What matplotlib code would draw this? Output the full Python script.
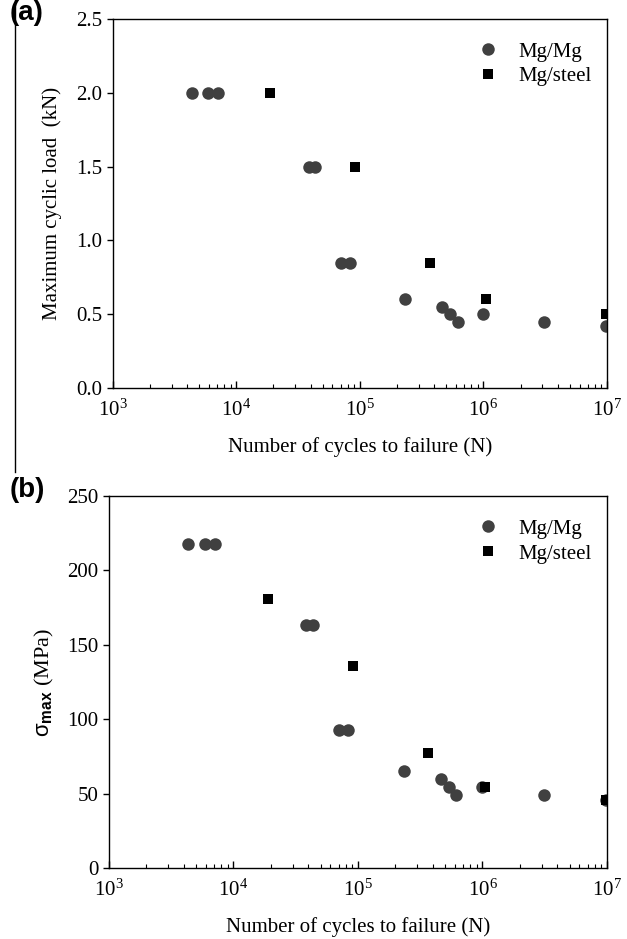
import matplotlib
matplotlib.use("Agg")
import matplotlib.pyplot as plt
from matplotlib.ticker import LogLocator, NullFormatter, LogFormatterMathtext, MultipleLocator, FormatStrFormatter
from matplotlib.lines import Line2D

plt.rcParams['font.family'] = ['Liberation Serif', 'DejaVu Serif']
plt.rcParams['mathtext.fontset'] = 'custom'
plt.rcParams['mathtext.rm'] = 'Liberation Serif'
plt.rcParams['mathtext.it'] = 'Liberation Serif:italic'
plt.rcParams['mathtext.bf'] = 'Liberation Sans:bold'
plt.rcParams['mathtext.sf'] = 'Liberation Sans'

# ---- data (a): maximum cyclic load (kN) ----
mgmg_cycles_a = [4350, 5870, 7090, 38500, 43600, 71000, 82500, 234000, 465000, 541000, 617000, 1.0e6, 3.1e6, 9.8e6]
mgmg_load_a = [2.0, 2.0, 2.0, 1.5, 1.5, 0.85, 0.85, 0.6, 0.55, 0.5, 0.45, 0.5, 0.45, 0.42]
mgst_cycles_a = [18800, 90700, 367000, 1.04e6, 9.8e6]
mgst_load_a = [2.0, 1.5, 0.85, 0.6, 0.5]

# ---- data (b): sigma max (MPa) ----
mgmg_cycles_b = [4350, 5870, 7090, 38500, 43600, 71000, 82500, 234000, 465000, 541000, 617000, 1.0e6, 3.1e6, 9.8e6]
mgmg_sigma_b = [217.5, 217.5, 217.5, 163, 163, 92.5, 92.5, 65, 60, 54.5, 49, 54.5, 49, 45.5]
mgst_cycles_b = [18800, 90700, 367000, 1.04e6, 9.8e6]
mgst_sigma_b = [180.5, 135.5, 77, 54.5, 45.5]

series_labels = ['Mg/Mg', 'Mg/steel']
xlabel = 'Number of cycles to failure (N)'

fig = plt.figure(figsize=(6.27, 9.39), dpi=100)
ax1 = fig.add_axes([0.1797, 0.5868, 0.7884, 0.3930])
ax2 = fig.add_axes([0.1738, 0.0756, 0.7943, 0.3962])

circ_c = '#404040'
panels = [(ax1, mgmg_cycles_a, mgmg_load_a, mgst_cycles_a, mgst_load_a),
          (ax2, mgmg_cycles_b, mgmg_sigma_b, mgst_cycles_b, mgst_sigma_b)]
for ax, xmg, ymg, xst, yst in panels:
    ax.plot(xmg, ymg, 'o', color=circ_c, markersize=9.0, markeredgewidth=0,
            label=series_labels[0])
    ax.plot(xst, yst, 's', color='black', markersize=7.6, markeredgewidth=0,
            label=series_labels[1])
    ax.set_xscale('log')
    ax.set_xlim(1e3, 1e7)
    ax.xaxis.set_major_locator(LogLocator(base=10, numticks=10))
    ax.xaxis.set_major_formatter(LogFormatterMathtext())
    ax.xaxis.set_minor_locator(LogLocator(base=10, subs=range(2, 10), numticks=10))
    ax.xaxis.set_minor_formatter(NullFormatter())
    ax.tick_params(axis='x', which='major', direction='in', length=5, width=1, labelsize=15, pad=8)
    ax.tick_params(axis='x', which='minor', direction='in', length=3, width=0.8)
    ax.tick_params(axis='y', which='major', direction='out', length=4, width=1, labelsize=15)
    for s in ax.spines.values():
        s.set_linewidth(1.0)
    ax.set_xlabel(xlabel, fontsize=15, labelpad=12)
    ax.legend(loc='upper right', frameon=False, fontsize=15, handletextpad=0.45,
              borderaxespad=0.0, labelspacing=0.25, bbox_to_anchor=(0.985, 0.96))

ax1.set_ylim(0, 2.5)
ax1.yaxis.set_major_locator(MultipleLocator(0.5))
ax1.yaxis.set_major_formatter(FormatStrFormatter('%.1f'))
ax1.set_ylabel('Maximum cyclic load  (kN)', fontsize=15, labelpad=10)

ax2.set_ylim(0, 250)
ax2.yaxis.set_major_locator(MultipleLocator(50))
ax2.set_ylabel(r'$\mathsf{\sigma}_{\mathbf{max}}$ (MPa)', fontsize=16, labelpad=8)

fig.text(0.015, 1.0, '(a)', fontsize=20, fontweight='bold', family='Liberation Sans', va='top', ha='left')
fig.text(0.015, 0.492, '(b)', fontsize=20, fontweight='bold', family='Liberation Sans', va='top', ha='left')
fig.add_artist(Line2D([0.024, 0.024], [1.0, 0.497], transform=fig.transFigure, color='black', lw=1))

fig.savefig('out.png', dpi=100)
